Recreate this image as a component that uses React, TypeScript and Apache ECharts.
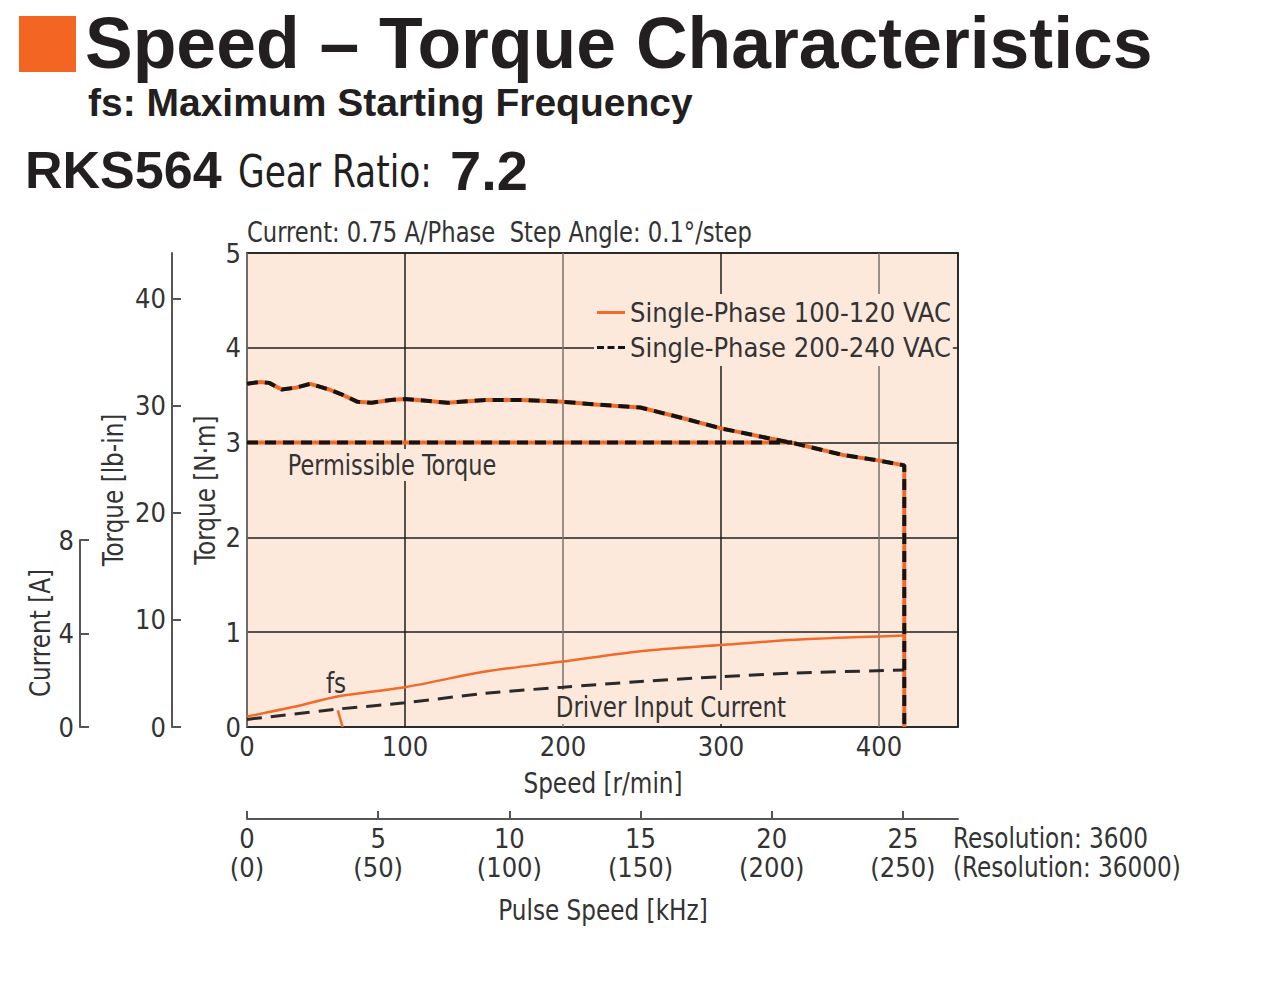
import React, { useEffect, useRef } from "react";
import * as echarts from "echarts";

// ---------- data ----------
const speedLabels = [0, 100, 200, 300, 400];
const torqueNmTicks = [0, 1, 2, 3, 4, 5];
const torqueLbInTicks = [0, 10, 20, 30, 40];
const currentTicks = [0, 4, 8];
const pulseTicks = [0, 5, 10, 15, 20, 25];

// pull-out torque [speed r/min, torque N·m] (both supply voltages identical)
const pulloutTorque: [number, number][] = [
  [0, 3.62], [8, 3.64], [14, 3.63], [22, 3.56], [31, 3.58], [40, 3.62], [52, 3.56],
  [61, 3.5], [70, 3.43], [79, 3.42], [91, 3.45], [100, 3.46], [115, 3.44], [127, 3.42],
  [151, 3.45], [174, 3.45], [200, 3.43], [222, 3.4], [249, 3.37], [273, 3.27],
  [300, 3.15], [332, 3.04], [347, 2.99], [377, 2.87], [400, 2.81], [416, 2.76], [416, 0],
];
// permissible torque
const permissibleTorque: [number, number][] = [[0, 3.0], [345, 3.0]];
// driver input current [speed r/min, current A]
const current100: [number, number][] = [
  [0, 0.44], [29, 0.84], [58, 1.3], [100, 1.68], [151, 2.34], [200, 2.76],
  [249, 3.2], [300, 3.46], [347, 3.68], [416, 3.86],
];
const current200: [number, number][] = [
  [0, 0.32], [58, 0.76], [100, 1.02], [151, 1.42], [200, 1.68], [249, 1.92],
  [300, 2.12], [347, 2.28], [416, 2.4],
];
// fs: maximum starting frequency marker
const fsMarker: [number, number][] = [[57.5, 0.7], [60.5, 0]];

const S1 = "Single-Phase 100-120 VAC";
const S2 = "Single-Phase 200-240 VAC";

// ---------- styles ----------
const NARROW = '"DejaVu Sans Condensed", "DejaVu Sans", sans-serif';
const BOLD = '"Liberation Sans", Arial, Helvetica, sans-serif';
const ORANGE = "#f26a2a";
const BLACK = "#141414";
const BG = "#fde9dc";
const TXT = "#333333";
const AXIS = "#555555";
const GRID_DARK = "#1e1e1e";
const GRID_GRAY = "#7a736d";
const FS = 27;
const GFS = 28;
const GSX = 0.92;

export default function App() {
  const ref = useRef<HTMLDivElement>(null);

  useEffect(() => {
    document.body.style.margin = "0";
    const chart = echarts.init(ref.current!, null, { renderer: "svg" });

    const labelStyle = { fontSize: FS, fontFamily: NARROW, color: TXT };
    const txt = (text: string, x: number, y: number, extra: any = {}, sx = GSX, rot = 0, z = 0) => ({
      type: "text",
      x,
      y,
      scaleX: sx,
      rotation: rot,
      z,
      style: {
        text,
        fontSize: GFS,
        fontFamily: NARROW,
        fill: TXT,
        textAlign: "left",
        textVerticalAlign: "middle",
        ...extra,
      },
    });

    const option: any = {
      animation: false,
      grid: [
        { left: 247, top: 253, width: 711, height: 474, show: true, backgroundColor: BG, borderColor: AXIS, borderWidth: 2, z: 0 },
        { left: 80, top: 540, width: 10, height: 187 },
        { left: 247, top: 810, width: 711, height: 9 },
      ],
      xAxis: [
        {
          gridIndex: 0, type: "value", min: 0, max: 450, interval: 100,
          axisLine: { show: false }, axisTick: { show: false },
          axisLabel: { ...labelStyle, margin: 6, customValues: speedLabels },
          splitLine: { show: true, lineStyle: { color: [GRID_GRAY, GRID_DARK], width: 1.5 } },
        },
        { gridIndex: 1, type: "value", show: false, min: 0, max: 1 },
        {
          gridIndex: 2, type: "value", min: 0, max: 27.1, interval: 5, position: "bottom",
          axisLine: { show: true, lineStyle: { color: AXIS, width: 2 } },
          axisTick: { show: true, inside: true, length: 8, lineStyle: { color: AXIS, width: 2 }, customValues: pulseTicks },
          axisLabel: {
            ...labelStyle, margin: 5, lineHeight: 29, customValues: pulseTicks,
            formatter: (v: number) => `${v}\n(${v * 10})`,
          },
          splitLine: { show: false },
        },
      ],
      yAxis: [
        {
          gridIndex: 0, type: "value", min: 0, max: 5, interval: 1,
          axisLine: { show: false }, axisTick: { show: false },
          axisLabel: { ...labelStyle, margin: 6, customValues: torqueNmTicks },
          splitLine: { show: true, lineStyle: { color: GRID_DARK, width: 1.5 } },
        },
        {
          gridIndex: 0, type: "value", min: 0, max: 5 * 8.851, position: "left", offset: 75,
          axisLine: { show: true, lineStyle: { color: AXIS, width: 2 } },
          axisTick: { show: true, inside: true, length: 9, lineStyle: { color: AXIS, width: 2 }, customValues: torqueLbInTicks },
          axisLabel: { ...labelStyle, margin: 6, customValues: torqueLbInTicks },
          splitLine: { show: false },
        },
        { gridIndex: 0, type: "value", min: 0, max: 20, show: false },
        {
          gridIndex: 1, type: "value", min: 0, max: 8, interval: 4, position: "left",
          axisLine: { show: true, lineStyle: { color: AXIS, width: 2 } },
          axisTick: { show: true, inside: true, length: 9, lineStyle: { color: AXIS, width: 2 }, customValues: currentTicks },
          axisLabel: { ...labelStyle, margin: 6, customValues: currentTicks },
          splitLine: { show: false },
        },
        { gridIndex: 2, type: "value", show: false },
      ],
      legend: {
        data: [
          { name: S1, icon: "path://M0,0H28V3H0Z", itemStyle: { color: ORANGE } },
          { name: S2, icon: "path://M0,0h7v3h-7zM10.5,0h7v3h-7zM21,0h7v3h-7z", itemStyle: { color: BLACK } },
        ],
        orient: "vertical",
        left: 594,
        top: 294,
        itemWidth: 28,
        itemHeight: 3,
        itemGap: 6,
        padding: [4, 2, 4, 3],
        backgroundColor: BG,
        selectedMode: false,
        textStyle: { fontSize: FS, fontFamily: NARROW, color: TXT, lineHeight: 29 },
      },
      series: [
        {
          name: S1, type: "line", xAxisIndex: 0, yAxisIndex: 0, data: pulloutTorque,
          symbol: "none", itemStyle: { color: ORANGE }, lineStyle: { color: ORANGE, width: 4 }, z: 3,
        },
        {
          name: S2, type: "line", xAxisIndex: 0, yAxisIndex: 0, data: pulloutTorque,
          symbol: "none", itemStyle: { color: BLACK }, lineStyle: { color: BLACK, width: 4, type: [11, 7] }, z: 4,
        },
        {
          name: "Permissible 1", type: "line", xAxisIndex: 0, yAxisIndex: 0, data: permissibleTorque,
          symbol: "none", lineStyle: { color: ORANGE, width: 4 }, z: 3,
        },
        {
          name: "Permissible 2", type: "line", xAxisIndex: 0, yAxisIndex: 0, data: permissibleTorque,
          symbol: "none", lineStyle: { color: BLACK, width: 4, type: [11, 7] }, z: 4,
        },
        {
          name: "Current 1", type: "line", xAxisIndex: 0, yAxisIndex: 2, data: current100,
          symbol: "none", smooth: 0.3, lineStyle: { color: ORANGE, width: 2.5 }, z: 3,
        },
        {
          name: "Current 2", type: "line", xAxisIndex: 0, yAxisIndex: 2, data: current200,
          symbol: "none", smooth: 0.3, lineStyle: { color: "#2a2a2a", width: 3, type: [15, 9] }, z: 3,
        },
        {
          name: "fs", type: "line", xAxisIndex: 0, yAxisIndex: 2, data: fsMarker,
          symbol: "none", lineStyle: { color: ORANGE, width: 2.5 }, z: 3,
        },
      ],
      graphic: [
        { type: "rect", shape: { x: 19, y: 16, width: 57, height: 56 }, style: { fill: "#f26522" } },
        txt("Speed – Torque Characteristics", 85, 43, { fontSize: 71.5, fontWeight: "bold", fontFamily: BOLD, fill: "#231f20" }, 1),
        txt("fs: Maximum Starting Frequency", 88, 102, { fontSize: 39, fontWeight: "bold", fontFamily: BOLD, fill: "#231f20" }, 1),
        txt("RKS564", 25, 170, { fontSize: 52, fontWeight: "bold", fontFamily: BOLD, fill: "#231f20" }, 1),
        txt("Gear Ratio:", 238, 172, { fontSize: 44, fill: "#231f20" }, 0.87),
        txt("7.2", 450, 170, { fontSize: 56, fontWeight: "bold", fontFamily: BOLD, fill: "#231f20" }, 1),
        txt("Current: 0.75 A/Phase  Step Angle: 0.1°/step", 247, 232, {}, 0.9),
        txt("Current [A]", 40, 633, { textAlign: "center" }, GSX, Math.PI / 2),
        txt("Torque [lb-in]", 113, 490, { textAlign: "center" }, GSX, Math.PI / 2),
        txt("Torque [N·m]", 205, 490, { textAlign: "center" }, GSX, Math.PI / 2),
        txt("Speed [r/min]", 603, 783, { textAlign: "center" }),
        txt("Permissible Torque", 286, 465, { backgroundColor: BG, padding: [2, 2, 2, 2] }, 0.89, 0, 1),
        txt("Driver Input Current", 554, 707, { backgroundColor: BG, padding: [3, 2, 3, 2] }, 0.91, 0, 1),
        txt("fs", 336, 683, { textAlign: "center" }),
        txt("Resolution: 3600", 953, 838),
        txt("(Resolution: 36000)", 953, 867),
        txt("Pulse Speed [kHz]", 603, 910, { textAlign: "center" }),
      ],
    };

    chart.setOption(option);
    return () => chart.dispose();
  }, []);

  return <div ref={ref} style={{ width: 1280, height: 1002 }} />;
}
